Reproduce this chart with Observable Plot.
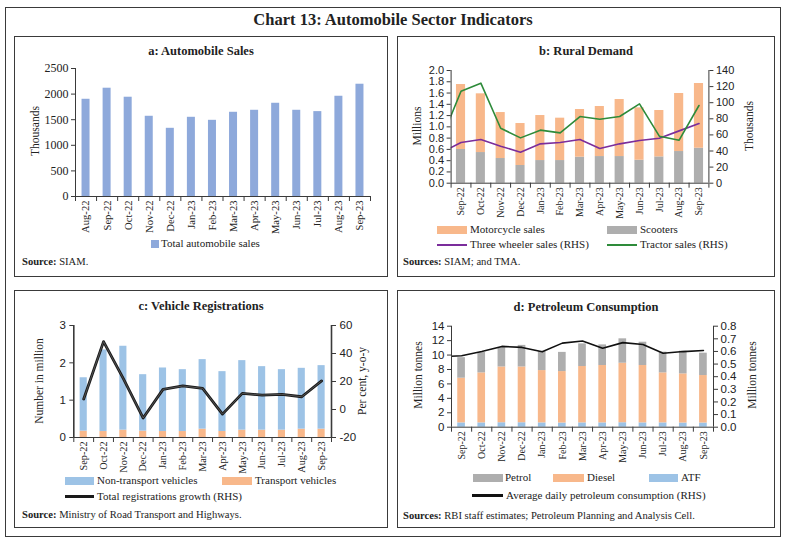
<!DOCTYPE html>
<html><head><meta charset="utf-8">
<script src="https://cdn.jsdelivr.net/npm/d3@7"></script>
<script src="https://cdn.jsdelivr.net/npm/@observablehq/plot@0.6"></script>
<style>
body{margin:0;width:786px;height:543px;background:#fff;position:relative;font-family:"Liberation Serif",serif;color:#222;overflow:hidden}
#root{position:absolute;left:0;top:0;width:786px;height:543px}
</style></head><body>
<div id="root"></div>
<script>
// ---------- DATA ----------
const monthsA = ["Aug-22","Sep-22","Oct-22","Nov-22","Dec-22","Jan-23","Feb-23","Mar-23","Apr-23","May-23","Jun-23","Jul-23","Aug-23","Sep-23"];
const autoSales = [1899,2115,1939,1567,1332,1547,1488,1645,1684,1821,1684,1658,1958,2193];

const months = ["Sep-22","Oct-22","Nov-22","Dec-22","Jan-23","Feb-23","Mar-23","Apr-23","May-23","Jun-23","Jul-23","Aug-23","Sep-23"];
const lineMonths = ["Aug-22"].concat(months);

// b: Rural demand
const scooters = [0.598,0.544,0.438,0.314,0.402,0.402,0.462,0.473,0.473,0.408,0.467,0.562,0.621];
const motorcycles = [1.153,1.042,0.816,0.745,0.799,0.752,0.846,0.888,1.012,0.929,0.823,1.030,1.148];
const threeWheeler = [38.1,50.5,54.3,46.0,38.5,48.9,50.5,54.3,43.1,48.9,53.0,55.9,65.0,74.1]; // thousands, from Aug-22
const tractors = [53.9,114.3,124.3,68.3,56.3,65.9,62.5,82.8,79.5,82.8,98.6,58.4,53.4,96.5];   // thousands, from Aug-22

// c: Vehicle registrations
const transportVeh = [0.17,0.16,0.197,0.17,0.16,0.16,0.224,0.161,0.197,0.197,0.197,0.224,0.224];
const nonTransportVeh = [1.43,2.186,2.247,1.513,1.702,1.657,1.862,1.603,1.862,1.701,1.62,1.629,1.701];
const regGrowth = [7.5,48.5,22.0,-6.1,14.4,16.8,15.1,-3.3,11.5,10.3,10.8,9.1,20.4];

// d: Petroleum consumption
const atf = [0.6,0.6,0.62,0.62,0.6,0.58,0.6,0.6,0.62,0.6,0.6,0.58,0.58];
const diesel = [6.19,6.93,7.73,7.73,7.25,7.13,7.81,7.95,8.25,7.95,6.93,6.81,6.58];
const petrol = [2.85,2.84,2.66,2.99,2.66,2.66,3.14,2.86,3.38,3.23,2.87,3.15,3.10];
const dailyCons = [0.558,0.566,0.599,0.640,0.632,0.597,0.666,0.683,0.626,0.670,0.655,0.586,0.599,0.607]; // from Aug-22

// ---------- helpers ----------
const root = document.getElementById("root");
function el(css, html){const e=document.createElement("div");e.style.cssText="position:absolute;white-space:nowrap;line-height:1;"+css;if(html!=null)e.innerHTML=html;root.appendChild(e);return e;}
function text(x,y,s,css=""){return el(`left:${x}px;top:${y}px;${css}`,s);}
function ctext(cx,y,s,css=""){return el(`left:${cx}px;top:${y}px;transform:translateX(-50%);${css}`,s);}
function vtext(cx,cy,s,css=""){return el(`left:${cx}px;top:${cy}px;transform:translate(-50%,-50%) rotate(-90deg);${css}`,s);}
function box(l,t,r,b,css=""){return el(`left:${l}px;top:${t}px;width:${r-l}px;height:${b-t}px;border:1px solid #3a3a3a;box-sizing:border-box;${css}`);}
function swatch(l,t,w,h,color){return el(`left:${l}px;top:${t}px;width:${w}px;height:${h}px;background:${color};`);}
function place(svg,l,t){svg.style.position="absolute";svg.style.left=l+"px";svg.style.top=t+"px";root.appendChild(svg);}

const SERIF = "Liberation Serif";
const SANS = "Liberation Sans";
const AX = "#3a3a3a";
const LEG = "font-size:11px;";
const SRC = "font-size:10.6px;";
const YT = "font-size:11.5px;";

function xMarks(labels, fs){
  const n = labels.length;
  return [
    Plot.axisX({ticks:d3.range(n), tickFormat:i=>labels[i], tickRotate:-90, tickSize:0, tickPadding:4, label:null, fontFamily:SERIF, fontSize:fs}),
    Plot.axisX({ticks:d3.range(-0.5,n,1), tickFormat:()=>"", tickSize:5, label:null, stroke:AX}),
  ];
}
const baseStyle = {fontFamily:SERIF, fontSize:"11px", color:"#222", background:"transparent", overflow:"visible"};

// ---------- frame & titles ----------
box(5,7,781,537);
ctext(393,12,"Chart 13: Automobile Sector Indicators","font-size:16.5px;font-weight:bold;");

// ---------- Panel a ----------
box(14,36,388,277);
ctext(201,45,"a: Automobile Sales","font-size:12.5px;font-weight:bold;");
{
  const n = monthsA.length;
  const data = monthsA.map((m,i)=>({i, v:autoSales[i]}));
  const svg = Plot.plot({
    width:375, height:185, marginTop:10, marginLeft:61, marginRight:19, marginBottom:47,
    x:{type:"linear", domain:[-0.5,n-0.5]},
    y:{domain:[0,2500]},
    style:baseStyle,
    marks:[
      Plot.rectY(data,{x1:d=>d.i-0.19,x2:d=>d.i+0.19,y1:0,y2:"v",fill:"#8EA9DB"}),
      Plot.ruleX([-0.5],{stroke:AX}),
      Plot.ruleY([0],{stroke:AX}),
      Plot.axisY({ticks:d3.range(0,2501,500), tickFormat:d3.format("d"), tickSize:4, tickPadding:3, label:null, stroke:AX, fontFamily:SERIF, fontSize:12}),
      ...xMarks(monthsA, 10.6)
    ]
  });
  place(svg,14,58);
  vtext(36,131,"Thousands",YT);
  swatch(151,240,8,8,"#8EA9DB");
  text(161,238,"Total automobile sales",LEG);
  text(22,257,"<b>Source:</b> SIAM.",SRC);
}

// ---------- Panel b ----------
box(397,36,775,277);
ctext(586,45,"b: Rural Demand","font-size:12.5px;font-weight:bold;");
{
  const n = months.length;
  const conv = r => r/70;
  const bars = months.map((m,i)=>({i, sc:scooters[i], mc:motorcycles[i]}));
  const tr = lineMonths.map((m,k)=>({i:k-1, v:conv(tractors[k])}));
  const tw = lineMonths.map((m,k)=>({i:k-1, v:conv(threeWheeler[k])}));
  const svg = Plot.plot({
    width:378, height:160, marginTop:10, marginLeft:53.6, marginRight:66.6, marginBottom:37.3,
    x:{type:"linear", domain:[-0.5,n-0.5]},
    y:{domain:[0,2]},
    style:baseStyle,
    marks:[
      Plot.rectY(bars,{x1:d=>d.i-0.23,x2:d=>d.i+0.23,y1:0,y2:"sc",fill:"#AEAEAE"}),
      Plot.rectY(bars,{x1:d=>d.i-0.23,x2:d=>d.i+0.23,y1:"sc",y2:d=>d.sc+d.mc,fill:"#F8B88B"}),
      Plot.line(tw,{x:"i",y:"v",stroke:"#7B2D9B",strokeWidth:1.6,clip:true}),
      Plot.line(tr,{x:"i",y:"v",stroke:"#2E8B3A",strokeWidth:1.6,clip:true}),
      Plot.ruleX([-0.5],{stroke:AX}),
      Plot.ruleX([n-0.5],{stroke:AX}),
      Plot.ruleY([0],{stroke:AX}),
      Plot.axisY({ticks:d3.range(0,2.01,0.2), tickFormat:d3.format(".1f"), tickSize:4, tickPadding:3, label:null, stroke:AX, fontFamily:SANS, fontSize:11}),
      Plot.axisY({anchor:"right", ticks:d3.range(0,141,20).map(conv), tickFormat:l=>d3.format("d")(Math.round(l*70)), tickSize:4, tickPadding:3, label:null, stroke:AX, fontFamily:SANS, fontSize:11}),
      ...xMarks(months, 10)
    ]
  });
  place(svg,397,60);
  vtext(418,126,"Millions",YT);
  vtext(750,126,"Thousands",YT);
  swatch(437,226,30,8,"#F8B88B");
  text(470,224,"Motorcycle sales",LEG);
  swatch(607,226,30,8,"#AEAEAE");
  text(640,224,"Scooters",LEG);
  swatch(437,244,30,2,"#7B2D9B");
  text(470,239,"Three wheeler sales (RHS)",LEG);
  swatch(607,244,30,2,"#2E8B3A");
  text(640,239,"Tractor sales (RHS)",LEG);
  text(403,257,"<b>Sources:</b> SIAM; and TMA.",SRC);
}

// ---------- Panel c ----------
box(14,290,388,528);
ctext(201,300,"c: Vehicle Registrations","font-size:12.5px;font-weight:bold;");
{
  const n = months.length;
  const conv = r => (r+20)*3/80;
  const bars = months.map((m,i)=>({i, t:transportVeh[i], nt:nonTransportVeh[i]}));
  const gr = months.map((m,i)=>({i, v:conv(regGrowth[i])}));
  const svg = Plot.plot({
    width:374, height:160, marginTop:10, marginLeft:59.3, marginRight:57, marginBottom:38,
    x:{type:"linear", domain:[-0.5,n-0.5]},
    y:{domain:[0,3]},
    style:baseStyle,
    marks:[
      Plot.rectY(bars,{x1:d=>d.i-0.18,x2:d=>d.i+0.18,y1:0,y2:"t",fill:"#F8B88B"}),
      Plot.rectY(bars,{x1:d=>d.i-0.18,x2:d=>d.i+0.18,y1:"t",y2:d=>d.t+d.nt,fill:"#9DC3E6"}),
      Plot.line(gr,{x:"i",y:"v",stroke:"#1a1a1a",strokeWidth:2.8}),
      Plot.line(gr,{x:"i",y:"v",stroke:"#6a6a6a",strokeWidth:0.7}),
      Plot.ruleX([-0.5],{stroke:AX,strokeWidth:1.6}),
      Plot.ruleX([n-0.5],{stroke:AX,strokeWidth:1.6}),
      Plot.ruleY([0],{stroke:AX}),
      Plot.axisY({ticks:[0,1,2,3], tickFormat:d3.format("d"), tickSize:4, tickPadding:4, label:null, stroke:AX, fontFamily:SANS, fontSize:11.5}),
      Plot.axisY({anchor:"right", ticks:[-20,0,20,40,60].map(conv), tickFormat:l=>String(Math.round(l*80/3-20)), tickSize:4, tickPadding:4, label:null, stroke:AX, fontFamily:SANS, fontSize:11.5}),
      ...xMarks(months, 10.2)
    ]
  });
  place(svg,14,315);
  vtext(40,381,"Number in million",YT);
  vtext(363,381,"Per cent, y-o-y",YT);
  swatch(65,477,29,8,"#9DC3E6");
  text(97,475,"Non-transport vehicles",LEG);
  swatch(222,477,30,8,"#F8B88B");
  text(255,475,"Transport vehicles",LEG);
  swatch(65,495,29,2.5,"#1a1a1a");
  text(97,491,"Total registrations growth (RHS)",LEG);
  text(22,510,"<b>Source:</b> Ministry of Road Transport and Highways.",SRC);
}

// ---------- Panel d ----------
box(397,290,775,528);
ctext(586,301,"d: Petroleum Consumption","font-size:12.5px;font-weight:bold;");
{
  const n = months.length;
  const conv = r => r*17.5;
  const bars = months.map((m,i)=>({i, a:atf[i], d:diesel[i], p:petrol[i]}));
  const dc = lineMonths.map((m,k)=>({i:k-1, v:conv(dailyCons[k])}));
  const svg = Plot.plot({
    width:378, height:150, marginTop:9.7, marginLeft:54, marginRight:62, marginBottom:39.3,
    x:{type:"linear", domain:[-0.5,n-0.5]},
    y:{domain:[0,14]},
    style:baseStyle,
    marks:[
      Plot.rectY(bars,{x1:d=>d.i-0.19,x2:d=>d.i+0.19,y1:0,y2:"a",fill:"#9DC3E6"}),
      Plot.rectY(bars,{x1:d=>d.i-0.19,x2:d=>d.i+0.19,y1:"a",y2:d=>d.a+d.d,fill:"#F8B88B"}),
      Plot.rectY(bars,{x1:d=>d.i-0.19,x2:d=>d.i+0.19,y1:d=>d.a+d.d,y2:d=>d.a+d.d+d.p,fill:"#AEAEAE"}),
      Plot.line(dc,{x:"i",y:"v",stroke:"#111",strokeWidth:1.6,clip:true}),
      Plot.ruleX([-0.5],{stroke:AX}),
      Plot.ruleX([n-0.5],{stroke:AX}),
      Plot.ruleY([0],{stroke:AX}),
      Plot.axisY({ticks:d3.range(0,15,2), tickFormat:d3.format("d"), tickSize:4, tickPadding:3, label:null, stroke:AX, fontFamily:SANS, fontSize:11.5}),
      Plot.axisY({anchor:"right", ticks:d3.range(0,9).map(k=>conv(k/10)), tickFormat:l=>d3.format(".1f")(l/17.5), tickSize:4, tickPadding:3, label:null, stroke:AX, fontFamily:SANS, fontSize:11.5}),
      ...xMarks(months, 10)
    ]
  });
  place(svg,397,316);
  vtext(419,375,"Million tonnes",YT);
  vtext(753,375,"Million tonnes",YT);
  swatch(473,474,30,8,"#AEAEAE");
  text(505,472,"Petrol",LEG);
  swatch(553,474,31,8,"#F8B88B");
  text(587,472,"Diesel",LEG);
  swatch(649,474,29,8,"#9DC3E6");
  text(681,472,"ATF",LEG);
  swatch(472,494,31,2.5,"#111");
  text(506,490,"Average daily petroleum consumption (RHS)",LEG);
  text(403,511,"<b>Sources:</b> RBI staff estimates; Petroleum Planning and Analysis Cell.",SRC);
}
</script>
</body></html>
